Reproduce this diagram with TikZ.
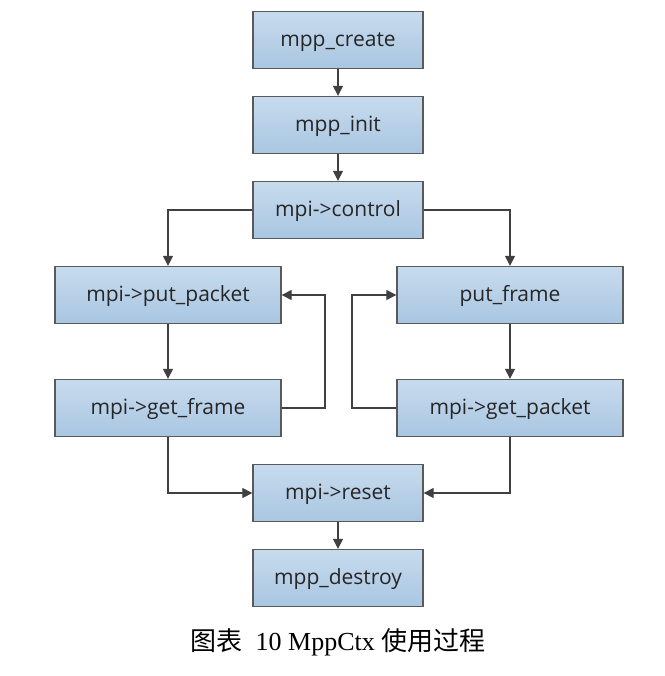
\documentclass[tikz,border=0pt]{standalone}
\usepackage{fontspec}
\setmainfont{Liberation Serif}
\newfontfamily\boxfont{Open Sans}
\newfontfamily\cjk{Noto Sans CJK SC}
\usetikzlibrary{arrows.meta}
\definecolor{boxtop}{HTML}{C7DBEE}
\definecolor{boxbot}{HTML}{A9C6E1}
\definecolor{boxline}{HTML}{5A5A5A}
\definecolor{arr}{HTML}{404040}
\begin{document}
\begin{tikzpicture}[x=1pt,y=-1pt,
  stepbox/.style={draw=boxline,line width=1.3pt,top color=boxtop,bottom color=boxbot,
    minimum height=57pt,inner sep=0pt,text height=15pt,text depth=2pt,
    font=\boxfont\fontsize{21}{23}\selectfont,text=black!85},
  narrow/.style={stepbox,minimum width=170pt},
  wide/.style={stepbox,minimum width=226pt},
  conn/.style={draw=arr,line width=1.2pt,-{Triangle[length=10pt,width=10pt]}}]
\useasboundingbox (0,0) rectangle (664,676);
\node[narrow] (create) at (338,40) {mpp\_create};
\node[narrow] (init) at (338,125) {mpp\_init};
\node[narrow] (control) at (338,210) {mpi->control};
\node[wide] (putpkt) at (168,295) {mpi->put\_packet};
\node[wide] (putfrm) at (510,295) {put\_frame};
\node[wide] (getfrm) at (168,408) {mpi->get\_frame};
\node[wide] (getpkt) at (510,408) {mpi->get\_packet};
\node[narrow] (reset) at (338,493) {mpi->reset};
\node[narrow] (destroy) at (338,578) {mpp\_destroy};
\node[font=\fontsize{26}{29}\selectfont] (cap) at (338,642) {{\cjk 图表}\enspace 10 MppCtx {\cjk 使用过程}};
\coordinate (lloop) at (325,0);
\coordinate (rloop) at (352,0);
\draw[conn] (create) -- (init);
\draw[conn] (init) -- (control);
\draw[conn] (control.west) -| (putpkt.north);
\draw[conn] (control.east) -| (putfrm.north);
\draw[conn] (putpkt) -- (getfrm);
\draw[conn] (putfrm) -- (getpkt);
\draw[conn] (getfrm.east) -- (getfrm.east -| lloop) -- (putpkt.east -| lloop) -- (putpkt.east);
\draw[conn] (getpkt.west) -- (getpkt.west -| rloop) -- (putfrm.west -| rloop) -- (putfrm.west);
\draw[conn] (getfrm.south) |- (reset.west);
\draw[conn] (getpkt.south) |- (reset.east);
\draw[conn] (reset) -- (destroy);
\end{tikzpicture}
\end{document}
